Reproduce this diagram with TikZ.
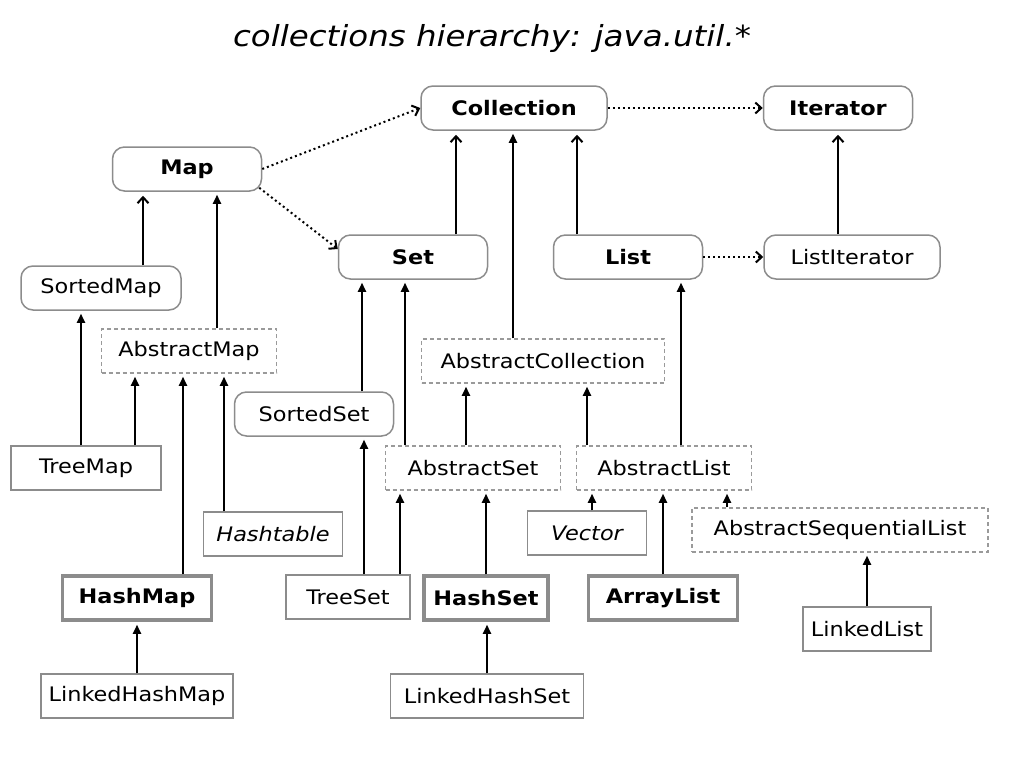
\documentclass[tikz,border=0pt]{standalone}
\usepackage{fontspec}
\setmainfont[FakeStretch=1.12]{DejaVu Sans}
\usepackage{tikz}
\usetikzlibrary{arrows.meta}
\definecolor{boxGray} {HTML}{8C8C8C}
\definecolor{dashGray}{HTML}{9A9A9A}
\tikzset{
  box/.style={minimum height=44pt, inner sep=0pt, text=black,
              font=\fontsize{20}{24}\selectfont},
  iface/.style={box, draw=boxGray, line width=1.5pt, rounded corners=12pt},
  abscls/.style={box, draw=dashGray, line width=1.5pt, dash pattern=on 4pt off 3pt},
  cls/.style={box, draw=boxGray, line width=1.5pt},
  maincls/.style={box, draw=boxGray, line width=3.5pt,
                  font=\fontsize{20}{24}\selectfont\bfseries},
  impl/.style={-{Triangle[length=9pt,width=8pt]}, line width=2pt, shorten >=3pt},
  ext/.style={-{Straight Barb[length=6pt,width=11pt]}, line width=2pt, shorten >=4pt},
  dep/.style={-{Straight Barb[length=6pt,width=11pt]}, line width=2pt,
              dash pattern=on 2pt off 3pt},
}

\begin{document}
\begin{tikzpicture}[x=1pt, y=-1pt]
  \path[use as bounding box, fill=white] (0,0) rectangle (1024,768);

  \node[font=\fontsize{29}{34}\selectfont\itshape] (title) at (492,38)
    {collections hierarchy: java.util.*};

  % interfaces
  \foreach \x/\y/\w/\name/\txt in
    {514/108/186/coll/Collection, 838/108/149/iter/Iterator,
     187/169/149/map/Map, 413/257/149/set/Set, 628/257/149/list/List}{
    \node[iface, font=\fontsize{20}{24}\selectfont\bfseries, minimum width=\w pt]
      (\name) at (\x,\y) {\txt};
  }
  \foreach \x/\y/\w/\name/\txt in
    {852/257/176/liter/ListIterator, 101/288/160/smap/SortedMap,
     314/414/159/sset/SortedSet}{
    \node[iface, minimum width=\w pt] (\name) at (\x,\y) {\txt};
  }

  % abstract classes
  \foreach \x/\y/\w/\name/\txt in
    {189/351/175/amap/AbstractMap, 543/361/243/acoll/AbstractCollection,
     473/468/175/aset/AbstractSet, 664/468/175/alist/AbstractList,
     840/530/296/aseq/AbstractSequentialList}{
    \node[abscls, minimum width=\w pt] (\name) at (\x,\y) {\txt};
  }

  % concrete classes
  \foreach \x/\y/\w/\name/\txt in
    {86/468/150/tmap/TreeMap, 348/597/124/tset/TreeSet,
     867/629/128/llist/LinkedList, 137/696/192/lhmap/LinkedHashMap,
     487/696/193/lhset/LinkedHashSet}{
    \node[cls, minimum width=\w pt] (\name) at (\x,\y) {\txt};
  }
  \node[cls, minimum width=139pt] (htab) at (273,534) {\itshape Hashtable};
  \node[cls, minimum width=119pt] (vec) at (587,533) {\itshape Vector};

  \foreach \x/\y/\w/\name/\txt in
    {137/598/149/hmap/HashMap, 486/598/124/hset/HashSet,
     663/598/149/alst/ArrayList}{
    \node[maincls, minimum width=\w pt] (\name) at (\x,\y) {\txt};
  }

  % inheritance
  \foreach \from/\to/\dx in
    {amap/map/28, tmap/smap/-5, tmap/amap/49, hmap/amap/46, htab/amap/-49,
     lhmap/hmap/0, acoll/coll/-30, sset/set/48, aset/set/-68, aset/acoll/-7,
     alist/acoll/-77, alist/list/17, tset/sset/16, tset/aset/52, hset/aset/0,
     lhset/hset/0, vec/alist/5, alst/alist/0, aseq/alist/-113, llist/aseq/0}{
    \draw[impl] ([xshift=\dx pt]\from.north) -- ([xshift=\dx pt]\from.north |- \to.south);
  }
  \foreach \from/\to/\dx in
    {smap/map/42, set/coll/43, list/coll/-51, liter/iter/-14}{
    \draw[ext] ([xshift=\dx pt]\from.north) -- ([xshift=\dx pt]\from.north |- \to.south);
  }

  % uses
  \draw[dep] (map.east) -- (coll.west);
  \draw[dep] ([shift={(-3pt,4pt)}]map.south east) -- ([yshift=8pt]set.west);
  \draw[dep] (coll.east) -- (iter.west);
  \draw[dep] (list.east) -- (liter.west);
\end{tikzpicture}
\end{document}
